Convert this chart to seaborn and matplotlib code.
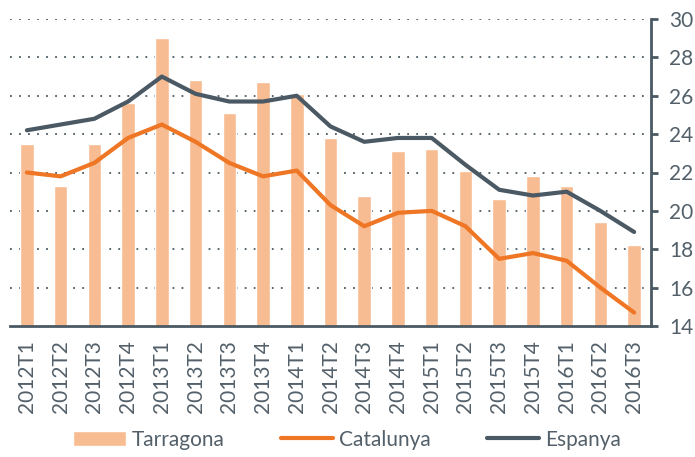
import seaborn as sns
import matplotlib.pyplot as plt
import pandas as pd
import numpy as np

# quarters and the three series
trimestres = ['2012T1', '2012T2', '2012T3', '2012T4',
              '2013T1', '2013T2', '2013T3', '2013T4',
              '2014T1', '2014T2', '2014T3', '2014T4',
              '2015T1', '2015T2', '2015T3', '2015T4',
              '2016T1', '2016T2', '2016T3']
tarragona = [23.5, 21.3, 23.5, 25.6, 29.0, 26.8, 25.1, 26.7, 26.1, 23.8,
             20.8, 23.1, 23.2, 22.1, 20.6, 21.8, 21.3, 19.4, 18.2]
catalunya = [22.0, 21.8, 22.5, 23.8, 24.5, 23.6, 22.5, 21.8, 22.1, 20.3,
             19.2, 19.9, 20.0, 19.2, 17.5, 17.8, 17.4, 16.0, 14.7]
espanya = [24.2, 24.5, 24.8, 25.7, 27.0, 26.1, 25.7, 25.7, 26.0, 24.4,
           23.6, 23.8, 23.8, 22.4, 21.1, 20.8, 21.0, 20.0, 18.9]

df = pd.DataFrame({'trimestre': trimestres, 'Tarragona': tarragona,
                   'Catalunya': catalunya, 'Espanya': espanya})

gris = '#4a5963'
text_gris = '#53606a'

sns.set_style('white')
plt.rcParams['font.family'] = ['Lato', 'DejaVu Sans']

fig = plt.figure(figsize=(6.95, 4.57), dpi=100)
ax = fig.add_axes([10 / 695, 1 - 326 / 457, 641 / 695, 307 / 457])

sns.barplot(data=df, x='trimestre', y='Tarragona', color='#f8bc92',
            saturation=1, width=0.4, ax=ax, label='Tarragona', zorder=2)
sns.lineplot(data=df, x='trimestre', y='Catalunya', color='#ee7624',
             linewidth=3, ax=ax, label='Catalunya', zorder=3,
             solid_capstyle='round')
sns.lineplot(data=df, x='trimestre', y='Espanya', color=gris,
             linewidth=3, ax=ax, label='Espanya', zorder=4,
             solid_capstyle='round')

ax.set_ylim(14, 30)
ax.set_xlim(-0.5, len(trimestres) - 0.5)
ax.set_yticks(range(14, 31, 2))
ax.set_xlabel('')
ax.set_ylabel('')

# dotted grid
for v in range(16, 31, 2):
    ax.axhline(v, color=gris, linestyle=(0, (1, 4)), linewidth=1.3, zorder=1)

ax.yaxis.tick_right()
for s in ['left', 'top']:
    ax.spines[s].set_visible(False)
for s in ['right', 'bottom']:
    ax.spines[s].set_color(gris)
    ax.spines[s].set_linewidth(2)

ax.tick_params(axis='y', which='major', direction='out', length=5, width=2,
               color=gris, labelsize=15, labelcolor=text_gris, pad=8)
ax.set_xticks(np.arange(len(trimestres)))
ax.set_xticklabels(trimestres, rotation=90)
ax.tick_params(axis='x', which='major', length=0, labelsize=15,
               labelcolor=text_gris, pad=10)
ax.set_xticks(np.arange(-0.5, len(trimestres)), minor=True)
ax.tick_params(axis='x', which='minor', direction='out', length=5, width=2,
               color=gris)

ax.get_legend().remove()
handles, labels = ax.get_legend_handles_labels()
order = [labels.index(n) for n in ['Tarragona', 'Catalunya', 'Espanya']]
fig.legend([handles[i] for i in order], [labels[i] for i in order],
           loc='lower center', bbox_to_anchor=(0.5, -0.025),
           ncol=3, frameon=False, fontsize=15, handlelength=2.5,
           columnspacing=2.7, handletextpad=0.3, labelcolor=text_gris)

fig.savefig('out.png', dpi=100)
